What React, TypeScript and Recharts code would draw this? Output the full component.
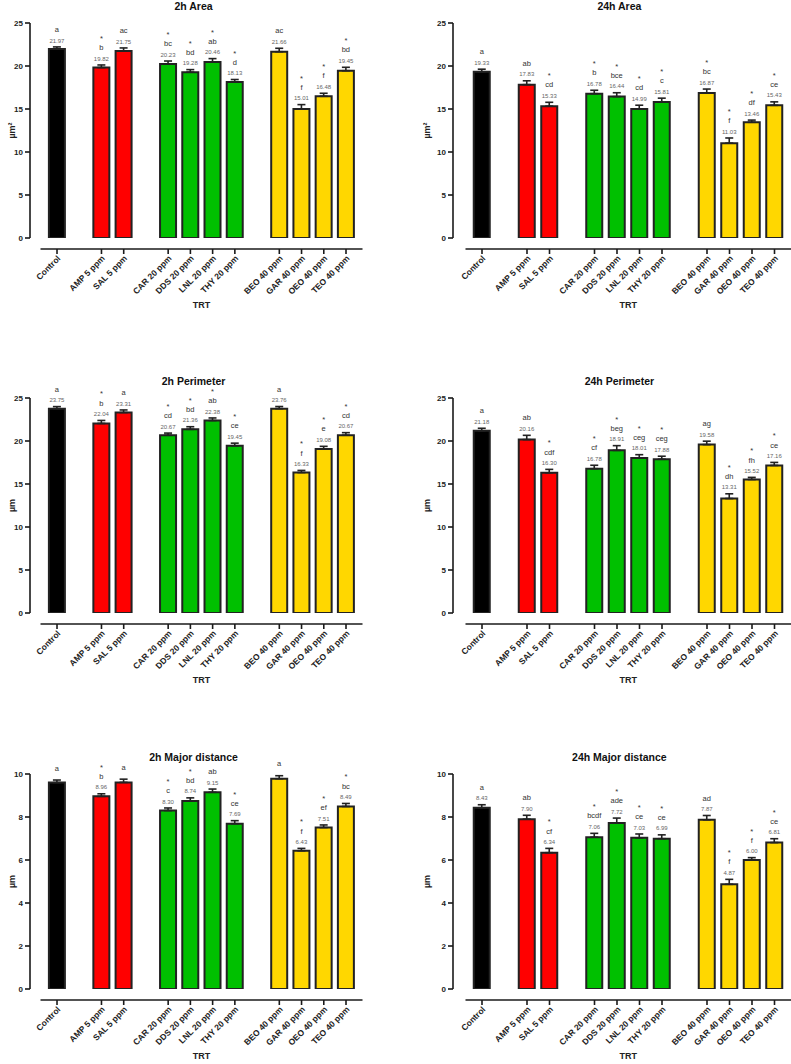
import React from 'react';
import { BarChart, Bar, XAxis, YAxis, ErrorBar, LabelList, Cell } from 'recharts';

const FONT = '"Liberation Sans", Arial, sans-serif';

const treatments = ['Control', 'AMP 5 ppm', 'SAL 5 ppm', 'CAR 20 ppm', 'DDS 20 ppm', 'LNL 20 ppm', 'THY 20 ppm', 'BEO 40 ppm', 'GAR 40 ppm', 'OEO 40 ppm', 'TEO 40 ppm'];
const barColors = ['#000000', '#ff0000', '#ff0000', '#00c000', '#00c000', '#00c000', '#00c000', '#ffd700', '#ffd700', '#ffd700', '#ffd700'];
// -1 = empty slot between treatment groups
const slotOrder = [0, -1, 1, 2, -1, 3, 4, 5, 6, -1, 7, 8, 9, 10];

const areaTicks = [0, 5, 10, 15, 20, 25];
const distTicks = [0, 2, 4, 6, 8, 10];

const area2h = [21.97, 19.82, 21.75, 20.23, 19.28, 20.46, 18.13, 21.66, 15.01, 16.48, 19.45];
const area2hErr = [0.25, 0.3, 0.35, 0.35, 0.3, 0.4, 0.3, 0.4, 0.5, 0.35, 0.4];
const area2hLetters = ['a', 'b', 'ac', 'bc', 'bd', 'ab', 'd', 'ac', 'f', 'f', 'bd'];
const area2hStars = [0, 1, 0, 1, 1, 1, 1, 0, 1, 1, 1];

const area24h = [19.33, 17.83, 15.33, 16.78, 16.44, 14.99, 15.81, 16.87, 11.03, 13.46, 15.43];
const area24hErr = [0.3, 0.45, 0.45, 0.4, 0.45, 0.45, 0.45, 0.45, 0.6, 0.25, 0.4];
const area24hLetters = ['a', 'ab', 'cd', 'b', 'bce', 'cd', 'c', 'bc', 'f', 'df', 'ce'];
const area24hStars = [0, 0, 1, 1, 1, 1, 1, 1, 1, 1, 1];

const perim2h = [23.75, 22.04, 23.31, 20.67, 21.36, 22.38, 19.45, 23.76, 16.33, 19.08, 20.67];
const perim2hErr = [0.25, 0.35, 0.3, 0.25, 0.3, 0.3, 0.3, 0.25, 0.25, 0.3, 0.3];
const perim2hLetters = ['a', 'b', 'a', 'cd', 'bd', 'ab', 'ce', 'a', 'f', 'e', 'cd'];
const perim2hStars = [0, 1, 0, 1, 1, 1, 1, 0, 1, 1, 1];

const perim24h = [21.18, 20.16, 16.30, 16.78, 18.91, 18.01, 17.88, 19.58, 13.31, 15.52, 17.16];
const perim24hErr = [0.3, 0.5, 0.4, 0.4, 0.55, 0.4, 0.35, 0.4, 0.55, 0.25, 0.35];
const perim24hLetters = ['a', 'ab', 'cdf', 'cf', 'beg', 'ceg', 'ceg', 'ag', 'dh', 'fh', 'ce'];
const perim24hStars = [0, 0, 1, 1, 1, 1, 1, 0, 1, 1, 1];

const major2h = [9.60, 8.96, 9.61, 8.30, 8.74, 9.15, 7.69, 9.78, 6.43, 7.51, 8.49];
const major2hErr = [0.12, 0.12, 0.15, 0.12, 0.15, 0.15, 0.14, 0.14, 0.11, 0.12, 0.14];
const major2hLetters = ['a', 'b', 'a', 'c', 'bd', 'ab', 'ce', 'a', 'f', 'ef', 'bc'];
const major2hStars = [0, 1, 0, 1, 1, 0, 1, 0, 1, 1, 1];
const major2hHidden = [0, 2, 7]; // no value printed above these bars

const major24h = [8.43, 7.90, 6.34, 7.06, 7.72, 7.03, 6.99, 7.87, 4.87, 6.00, 6.81];
const major24hErr = [0.14, 0.18, 0.2, 0.18, 0.23, 0.18, 0.18, 0.2, 0.23, 0.11, 0.18];
const major24hLetters = ['a', 'ab', 'cf', 'bcdf', 'ade', 'ce', 'ce', 'ad', 'f', 'f', 'ce'];
const major24hStars = [0, 0, 1, 1, 1, 1, 1, 0, 1, 1, 1];

const PLOT_H = 215;
const ROW_H = 375;
const LEFT = { left: 0, width: 395, axisX: 30, padL: 15.9, slot: 22.23, labelDist: 18.5 };
const RIGHT = { left: 395, width: 396, axisX: 58, padL: 17.75, slot: 22.5, labelDist: 26 };

function XTick(props: any) {
  const { x, y, payload, index, slot } = props;
  const name = String(payload.value).startsWith('gap') ? '' : payload.value;
  return (
    <g>
      {index === 0 && (
        <line x1={x - 16.5} x2={x + 13 * slot + 16.5} y1={y + 11} y2={y + 11} stroke="#1a1a1a" strokeWidth={1.6} />
      )}
      {name && <line x1={x} x2={x} y1={y + 11} y2={y + 16} stroke="#1a1a1a" strokeWidth={1.6} />}
      {name && (
        <text x={x + 4} y={y + 21} textAnchor="end" transform={`rotate(-45 ${x + 4} ${y + 21})`}
          fontSize={8.5} fontWeight="bold" fill="#222" fontFamily={FONT}>{name}</text>
      )}
    </g>
  );
}

function Panel(props: any) {
  const { title, unit, ticks, values, errs, letters, stars, hidden = [], side, top } = props;
  const c = side === 'left' ? LEFT : RIGHT;
  const yMax = ticks[ticks.length - 1];
  const plotW = c.padL + 14 * c.slot;
  const ppu = PLOT_H / yMax;

  const rows = slotOrder.map((t, i) =>
    t < 0
      ? { key: 'gap' + i }
      : {
          key: treatments[t], v: values[t], e: [0, errs[t]], letters: letters[t],
          star: stars[t], showValue: !hidden.includes(t), color: barColors[t],
        }
  );
  const barRows: any[] = rows.filter((r: any) => r.v != null);

  const stack = (p: any) => {
    const vb = p.viewBox || p;
    let r: any = barRows[p.index];
    if (!r || r.v !== p.value) r = barRows.find((b) => b.v === p.value);
    if (!r) return null;
    const cx = vb.x + vb.width / 2;
    const capY = vb.y - r.e[1] * ppu;
    const valY = capY - 6.5;
    const letY = r.showValue ? valY - 11 : capY - 12;
    const starY = letY - 11;
    return (
      <g fontFamily={FONT}>
        {r.showValue && (
          <text x={cx} y={valY} dy="0.35em" textAnchor="middle" fontSize={6} fill="#666">{r.v.toFixed(2)}</text>
        )}
        <text x={cx} y={letY} dy="0.35em" textAnchor="middle" fontSize={7.5} fill="#333">{r.letters}</text>
        {r.star ? (
          <text x={cx} y={starY} dy="0.6em" textAnchor="middle" fontSize={7.5} fill="#333">*</text>
        ) : null}
      </g>
    );
  };

  return (
    <div style={{ position: 'absolute', left: c.left, top, width: c.width, height: ROW_H }}>
      <div style={{ position: 'absolute', left: c.axisX, width: plotW, top: 0, textAlign: 'center', fontFamily: FONT, fontWeight: 'bold', fontSize: '10.5px', lineHeight: '12px', color: '#111' }}>
        {title}
      </div>
      <BarChart width={c.width} height={ROW_H} data={rows} barSize={16}
        margin={{ top: 23, right: c.width - c.axisX - plotW, bottom: 0, left: 0 }}>
        <XAxis dataKey="key" type="category" height={ROW_H - 23 - PLOT_H} padding={{ left: c.padL, right: 0 }}
          axisLine={false} tickLine={false} tickSize={0} tickMargin={0} interval={0}
          tick={(p: any) => <XTick {...p} slot={c.slot} />}
          label={{
            content: (p: any) => {
              const vb = p.viewBox;
              const cx = vb.x + c.padL + 7 * c.slot;
              return <text x={cx} y={vb.y + 67} dy="0.35em" textAnchor="middle" fontSize={9} fontWeight="bold" fill="#222" fontFamily={FONT}>TRT</text>;
            },
          }}
        />
        <YAxis width={c.axisX} domain={[0, yMax]} ticks={ticks} allowDataOverflow interval={0}
          axisLine={{ stroke: '#1a1a1a', strokeWidth: 1.6 }} tickLine={{ stroke: '#1a1a1a', strokeWidth: 1.6 }}
          tickSize={5} tickMargin={2}
          tick={{ fontSize: 8, fontWeight: 'bold', fill: '#222', fontFamily: FONT }}
          label={{
            content: (p: any) => {
              const vb = p.viewBox;
              const lx = vb.x + vb.width - c.labelDist;
              const ly = vb.y + vb.height / 2;
              return <text x={lx} y={ly} dy="0.35em" textAnchor="middle" transform={`rotate(-90 ${lx} ${ly})`} fontSize={9} fontWeight="bold" fill="#222" fontFamily={FONT}>{unit}</text>;
            },
          }}
        />
        <Bar dataKey="v" isAnimationActive={false} stroke="#222" strokeWidth={2}>
          {rows.map((r: any, i) => <Cell key={i} fill={r.color || 'none'} />)}
          <ErrorBar dataKey="e" width={4} stroke="#222" strokeWidth={1.6} isAnimationActive={false} />
          <LabelList dataKey="v" content={stack} />
        </Bar>
      </BarChart>
    </div>
  );
}

export default function App() {
  return (
    <div style={{ position: 'absolute', left: 0, top: 0, width: 791, height: 1064, background: '#fff', overflow: 'hidden' }}>
      <Panel side="left" top={0} title="2h Area" unit="µm²" ticks={areaTicks}
        values={area2h} errs={area2hErr} letters={area2hLetters} stars={area2hStars} />
      <Panel side="right" top={0} title="24h Area" unit="µm²" ticks={areaTicks}
        values={area24h} errs={area24hErr} letters={area24hLetters} stars={area24hStars} />
      <Panel side="left" top={375} title="2h Perimeter" unit="µm" ticks={areaTicks}
        values={perim2h} errs={perim2hErr} letters={perim2hLetters} stars={perim2hStars} />
      <Panel side="right" top={375} title="24h Perimeter" unit="µm" ticks={areaTicks}
        values={perim24h} errs={perim24hErr} letters={perim24hLetters} stars={perim24hStars} />
      <Panel side="left" top={751} title="2h Major distance" unit="µm" ticks={distTicks}
        values={major2h} errs={major2hErr} letters={major2hLetters} stars={major2hStars} hidden={major2hHidden} />
      <Panel side="right" top={751} title="24h Major distance" unit="µm" ticks={distTicks}
        values={major24h} errs={major24hErr} letters={major24hLetters} stars={major24hStars} />
    </div>
  );
}
